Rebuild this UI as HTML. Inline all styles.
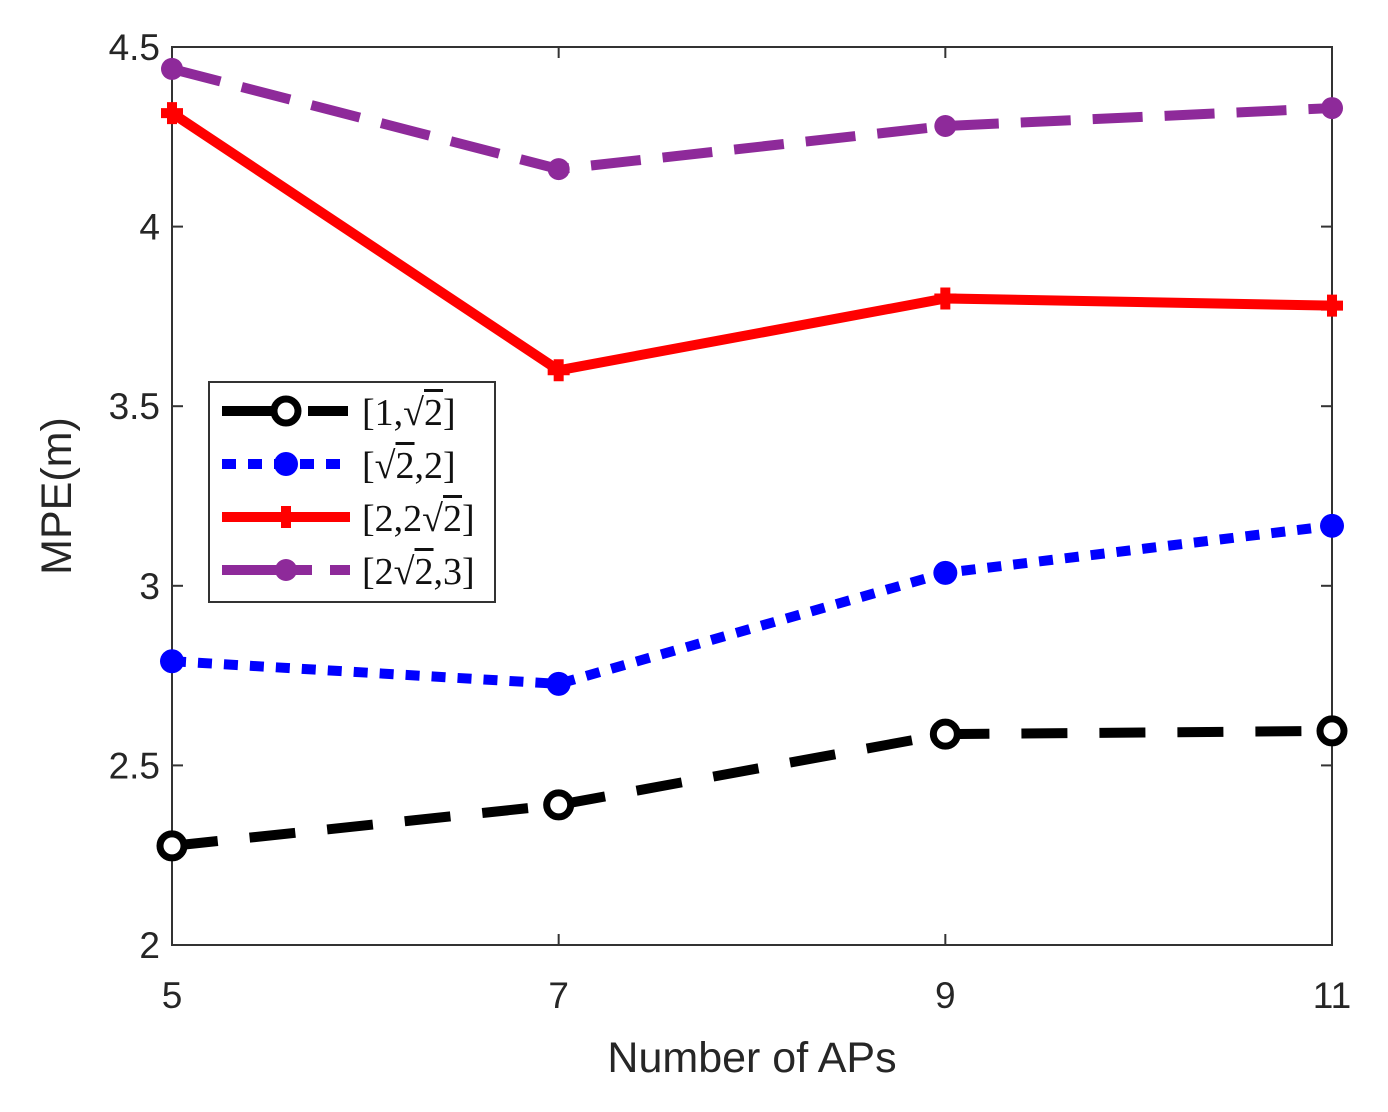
<!DOCTYPE html>
<html><head><meta charset="utf-8"><style>
body{margin:0;background:#fff;}
#wrap{position:relative;width:1388px;height:1112px;overflow:hidden;}
.lg{position:absolute;left:362px;font-family:"Liberation Serif",serif;font-size:38px;color:#111;line-height:1;}
.ov{text-decoration:overline;}
</style></head><body>
<div id="wrap">
<svg id="svg" width="1388" height="1112" style="position:absolute;left:0;top:0"></svg>
<div style="position:absolute;left:208px;top:381px;width:284px;height:218px;border:2px solid #333;background:#fff;"></div>
<div class="lg" style="top:394px">[1,√<span class="ov">2</span>]</div>
<div class="lg" style="top:447px">[√<span class="ov">2</span>,2]</div>
<div class="lg" style="top:500px">[2,2√<span class="ov">2</span>]</div>
<div class="lg" style="top:553px">[2√<span class="ov">2</span>,3]</div>
<svg id="lsvg" width="1388" height="1112" style="position:absolute;left:0;top:0"></svg>
</div>
<script>
const categories=[5,7,9,11];
const seriesBlack=[2.276,2.39,2.587,2.596];
const seriesBlue=[2.79,2.727,3.036,3.167];
const seriesRed=[4.316,3.60,3.80,3.78];
const seriesPurple=[4.439,4.16,4.28,4.33];
const yTicks=[2,2.5,3,3.5,4,4.5];
const yTickLabels=["2","2.5","3","3.5","4","4.5"];
const xTickLabels=["5","7","9","11"];

const L=172,R=1332,T=47,B=945;
const xs=v=>L+(v-5)/(11-5)*(R-L);
const ys=v=>B-(v-2)/(4.5-2)*(B-T);
const NS="http://www.w3.org/2000/svg";
const svg=document.getElementById('svg');
function mk(tag,attrs,parent){const e=document.createElementNS(NS,tag);for(const k in attrs)e.setAttribute(k,attrs[k]);(parent||svg).appendChild(e);return e;}

let r=mk('rect',{x:L,y:T,width:R-L,height:B-T,fill:'none',stroke:'#333','stroke-width':2});


yTicks.forEach((t,i)=>{
  const y=ys(t);
  let a=mk('line',{x1:L,x2:L+11,y1:y,y2:y,stroke:'#333','stroke-width':2});
  
  
  mk('line',{x1:R,x2:R-11,y1:y,y2:y,stroke:'#333','stroke-width':2});
  let tx=mk('text',{x:L-12,y:y+13,'text-anchor':'end','font-family':'Liberation Sans, sans-serif','font-size':37,fill:'#262626'});
  tx.textContent=yTickLabels[i];
  
  
});
categories.forEach((c,i)=>{
  const x=xs(c);
  let a=mk('line',{x1:x,x2:x,y1:B,y2:B-11,stroke:'#333','stroke-width':2});
  
  
  mk('line',{x1:x,x2:x,y1:T,y2:T+11,stroke:'#333','stroke-width':2});
  let tx=mk('text',{x:x,y:1008,'text-anchor':'middle','font-family':'Liberation Sans, sans-serif','font-size':37,fill:'#262626'});
  tx.textContent=xTickLabels[i];
  
  
});
let xl=mk('text',{x:752,y:1072,'text-anchor':'middle','font-family':'Liberation Sans, sans-serif','font-size':43,fill:'#262626'});
xl.textContent='Number of APs';


let yl=mk('text',{x:0,y:0,'text-anchor':'middle','font-family':'Liberation Sans, sans-serif','font-size':43,fill:'#262626',transform:'translate(71,496) rotate(-90)'});
yl.textContent='MPE(m)';



const styles=[
 {d:seriesBlack,c:'#000',dash:'46,32',m:'circle',name:'series-1-sqrt2'},
 {d:seriesBlue,c:'#0000ff',dash:'14,12',m:'dot',name:'series-sqrt2-2'},
 {d:seriesRed,c:'#ff0000',dash:'',m:'plus',name:'series-2-2sqrt2'},
 {d:seriesPurple,c:'#8e2a9a',dash:'50,22',m:'star',name:'series-2sqrt2-3'}
];
function marker(p,x,y,s){
  let e;
  if(s.m==='circle'){e=mk('circle',{cx:x,cy:y,r:12,fill:'#fff',stroke:s.c,'stroke-width':7},p);}
  else if(s.m==='dot'){e=mk('circle',{cx:x,cy:y,r:12,fill:s.c},p);}
  else if(s.m==='plus'){e=mk('path',{d:`M${x-11} ${y}H${x+11}M${x} ${y-11}V${y+11}`,stroke:s.c,'stroke-width':10},p);}
  else {e=mk('circle',{cx:x,cy:y,r:11,fill:s.c},p);}
  return e;
}
styles.forEach(s=>{
  const g=mk('g',{});
  
  
  const pts=s.d.map((v,i)=>xs(categories[i])+','+ys(v)).join(' ');
  const pl=mk('polyline',{points:pts,fill:'none',stroke:s.c,'stroke-width':10,'stroke-dasharray':s.dash},g);
  
  
  s.d.forEach((v,i)=>{
    const m=marker(g,xs(categories[i]),ys(v),s);
    
    
  });
});
const ls=document.getElementById('lsvg');
styles.forEach((s,i)=>{
  const y=411+i*53;
  const g=mk('g',{},ls);
  
  
  let da=s.dash;
  if(s.m==='circle') da='62,24,40';
  else if(s.m==='star') da='90,18,40';
  mk('line',{x1:222,x2:350,y1:y,y2:y,stroke:s.c,'stroke-width':10,'stroke-dasharray':da},g);
  marker(g,286,y,s);
});
</script>
</body></html>
